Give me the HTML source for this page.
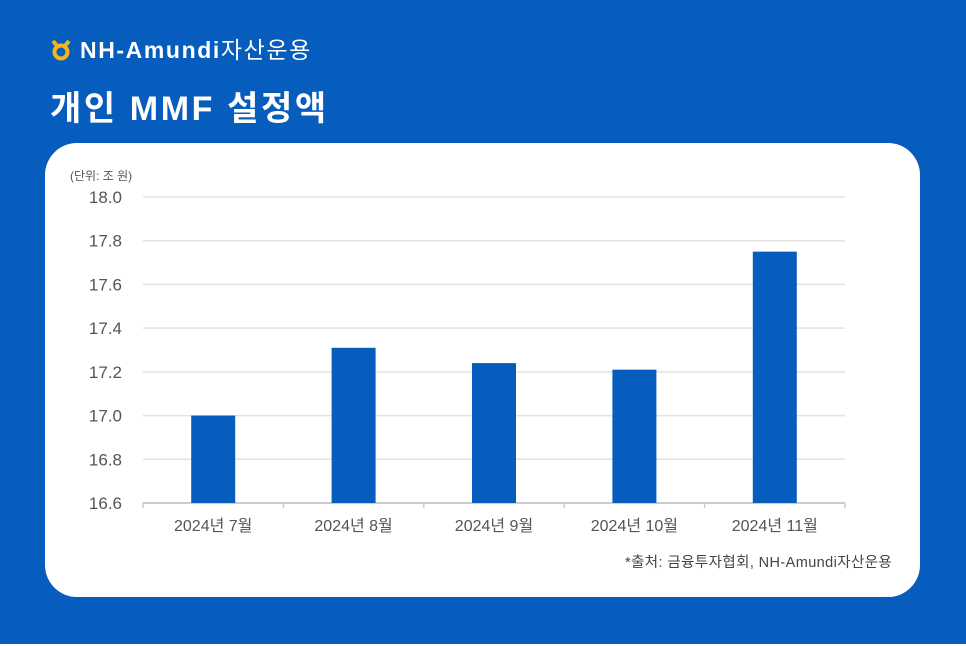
<!DOCTYPE html>
<html><head><meta charset="utf-8"><style>
html,body{margin:0;padding:0}
body{width:966px;height:646px;background:#fff;position:relative;overflow:hidden;font-family:"Liberation Sans","Noto Sans CJK KR",sans-serif}
#bg{position:absolute;left:0;top:0;width:966px;height:644px;background:#065dbd}
#card{position:absolute;left:45px;top:143px;width:875px;height:454px;background:#fff;border-radius:32px}
.t{position:absolute;white-space:nowrap}
</style></head><body>
<div id="bg"></div>
<div class="t" style="left:50px;top:31px;color:#fff;font-size:23px;font-weight:bold;letter-spacing:1.6px">
<svg width="22" height="22" viewBox="0 0 22 22" style="vertical-align:-3px"><circle cx="11" cy="13" r="6.5" fill="none" stroke="#f2b51c" stroke-width="4"/><path d="M3 2 L8 8 M19 2 L14 8" stroke="#f2b51c" stroke-width="4"/></svg> NH-Amundi<span style="font-weight:normal">자산운용</span></div>
<div class="t" style="left:50px;top:81px;color:#fff;font-size:34px;font-weight:bold;letter-spacing:2.6px">개인 MMF 설정액</div>
<div id="card"></div>
<div class="t" style="left:70px;top:167px;color:#555;font-size:12px">(단위: 조 원)</div>
<svg id="chart" width="966" height="646" style="position:absolute;left:0;top:0"></svg>
<div class="t" style="left:625px;top:551px;color:#444;font-size:14.5px;letter-spacing:0.4px">*출처: 금융투자협회, NH-Amundi자산운용</div>
<script>
const categories=["2024년 7월","2024년 8월","2024년 9월","2024년 10월","2024년 11월"];
const values=[17.0,17.31,17.24,17.21,17.75];
const yTicks=[16.6,16.8,17.0,17.2,17.4,17.6,17.8,18.0];
const svg=document.getElementById('chart');
const NS='http://www.w3.org/2000/svg';
const x0=143,x1=845,yTop=197,yBot=503,vMin=16.6,vMax=18.0;
const y=v=>yBot-(v-vMin)/(vMax-vMin)*(yBot-yTop);
const band=(x1-x0)/categories.length;
const xc=i=>x0+band*(i+0.5);
function mk(tag,attrs){const e=document.createElementNS(NS,tag);for(const k in attrs)e.setAttribute(k,attrs[k]);svg.appendChild(e);return e;}
yTicks.forEach(t=>{
 const l=mk('line',{x1:x0,x2:x1,y1:y(t),y2:y(t),stroke:t===vMin?'#ccc':'#e2e2e2','stroke-width':t===vMin?2:1.5});
 
 
 const tx=mk('text',{x:122,y:y(t)+6,'text-anchor':'end','font-size':17,fill:'#555','font-family':'Liberation Sans, sans-serif'});
 tx.textContent=t.toFixed(1);
 
 
});
for(let i=0;i<=categories.length;i++){
 const l=mk('line',{x1:x0+band*i,x2:x0+band*i,y1:yBot,y2:yBot+5,stroke:'#ccc','stroke-width':1.5});
 
 
}
categories.forEach((c,i)=>{
 const r=mk('rect',{x:xc(i)-22,y:y(values[i]),width:44,height:yBot-y(values[i]),fill:'#065dbd'});
 
 
 const tx=mk('text',{x:xc(i),y:531,'text-anchor':'middle','font-size':16,fill:'#555','font-family':'Liberation Sans, Noto Sans CJK KR, sans-serif'});
 tx.textContent=c;
 
 
});
</script>
</body></html>
